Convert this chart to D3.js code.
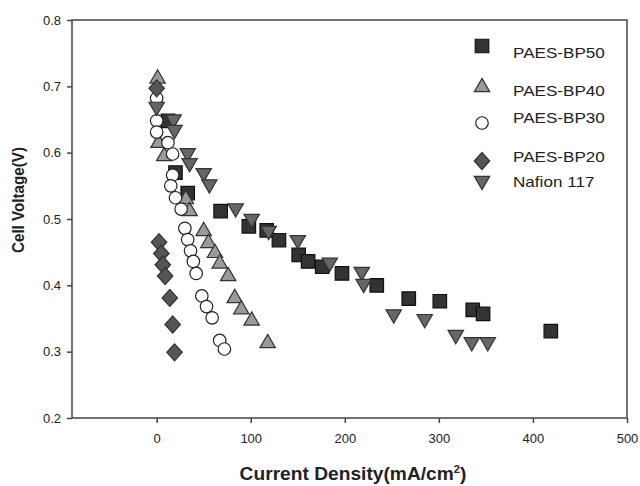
<!DOCTYPE html>
<html>
<head>
<meta charset="utf-8">
<script src="https://cdn.jsdelivr.net/npm/d3@7"></script>
<style>
  html, body { margin: 0; padding: 0; background: #fff; }
  svg { display: block; }
  text { font-family: "Liberation Sans", Arial, sans-serif; fill: #222; }
</style>
</head>
<body>
<svg id="chart" width="640" height="486"></svg>
<script>
// ---- data ----
const seriesNames = ["PAES-BP50", "PAES-BP40", "PAES-BP30", "PAES-BP20", "Nafion 117"];

const bp50 = [[12,0.648],[20,0.570],[33,0.539],[68,0.512],[98,0.489],[117,0.483],[130,0.468],[151,0.446],[161,0.436],[176,0.428],[197,0.418],[234,0.400],[268,0.380],[301,0.376],[336,0.363],[347,0.357],[419,0.331]];
const bp40 = [[1,0.715],[2,0.618],[8,0.598],[31,0.533],[35,0.515],[50,0.485],[55,0.467],[62,0.452],[67,0.436],[76,0.417],[83,0.384],[90,0.367],[101,0.350],[118,0.316]];
const bp30 = [[0,0.682],[0,0.648],[0,0.631],[12,0.615],[17,0.598],[17,0.566],[15,0.550],[20,0.532],[26,0.515],[30,0.486],[33,0.469],[36,0.452],[39,0.436],[42,0.418],[48,0.384],[53,0.368],[59,0.351],[67,0.317],[72,0.304]];
const bp20 = [[0,0.697],[2.5,0.465],[5,0.448],[6.5,0.431],[9,0.414],[14,0.381],[17,0.341],[19,0.299]];
const nafion = [[0,0.666],[18,0.647],[19,0.631],[33,0.596],[35,0.581],[50,0.566],[56,0.549],[84,0.513],[101,0.497],[119,0.479],[150,0.465],[184,0.431],[218,0.417],[220,0.399],[252,0.353],[285,0.346],[318,0.322],[335,0.311],[352,0.311]];

const xTicks = [0, 100, 200, 300, 400, 500];
const yTicks = [0.2, 0.3, 0.4, 0.5, 0.6, 0.7, 0.8];
const xDomain = [-90, 500];
const yDomain = [0.2, 0.8];
const xTitle = "Current Density(mA/cm";
const xTitleSup = "2";
const yTitle = "Cell Voltage(V)";

// ---- layout ----
const svg = d3.select("#chart");
const plot = { left: 72, right: 627, top: 20, bottom: 418 };

const x = d3.scaleLinear().domain(xDomain).range([plot.left, plot.right]);
const y = d3.scaleLinear().domain(yDomain).range([plot.bottom, plot.top]);

// marker shapes (centered on bbox)
const shapes = {
  square: s => `M${-s/2},${-s/2}h${s}v${s}h${-s}Z`,
  triUp: s => { const w = s*1.1, h = s*0.95; return `M0,${-h/2}L${w/2},${h/2}L${-w/2},${h/2}Z`; },
  triDown: s => { const w = s*1.1, h = s*0.95; return `M0,${h/2}L${w/2},${-h/2}L${-w/2},${-h/2}Z`; },
  diamond: s => { const w = s*1.0, h = s*1.1; return `M0,${-h/2}L${w/2},0L0,${h/2}L${-w/2},0Z`; },
  circle: s => d3.symbol(d3.symbolCircle, Math.PI*(s/2)*(s/2))()
};

const series = [
  { name: seriesNames[0], data: bp50,   shape: "square",  size: 13.5, fill: "#333", stroke: "#111" },
  { name: seriesNames[1], data: bp40,   shape: "triUp",   size: 14, fill: "#9a9a9a", stroke: "#333" },
  { name: seriesNames[2], data: bp30,   shape: "circle",  size: 12.5, fill: "#fff", stroke: "#222" },
  { name: seriesNames[3], data: bp20,   shape: "diamond", size: 15.5, fill: "#555", stroke: "#333" },
  { name: seriesNames[4], data: nafion, shape: "triDown", size: 14, fill: "#666", stroke: "#333" }
];

// ---- axes ----
const yAxis = d3.axisLeft(y).tickValues(yTicks).tickFormat(d3.format(".1f")).tickSize(5).tickSizeOuter(0).tickPadding(6);
const xAxis = d3.axisBottom(x).tickValues(xTicks).tickFormat(d3.format("d")).tickSize(5).tickSizeOuter(0).tickPadding(11);

const gy = svg.append("g").attr("transform", `translate(${plot.left},0)`).call(yAxis);
const gx = svg.append("g").attr("transform", `translate(0,${plot.bottom})`).call(xAxis);
[gx, gy].forEach(g => {
  g.select(".domain").remove();
  g.selectAll(".tick line").attr("stroke", "#444").attr("stroke-width", 1.5);
  g.selectAll(".tick text").style("font-family", "'Liberation Sans', Arial, sans-serif").attr("fill", "#222").style("font-size", "13px");
});

// frame
svg.append("rect")
  .attr("x", plot.left).attr("y", plot.top)
  .attr("width", plot.right - plot.left).attr("height", plot.bottom - plot.top)
  .attr("fill", "none").attr("stroke", "#444").attr("stroke-width", 1.5);

// ---- points ----
series.forEach(s => {
  svg.append("g").selectAll("path").data(s.data).join("path")
    .attr("d", shapes[s.shape](s.size))
    .attr("transform", d => `translate(${x(d[0])},${y(d[1])})`)
    .attr("fill", s.fill).attr("stroke", s.stroke).attr("stroke-width", 1.2);
});

// ---- legend ----
const legendRows = [
  { my: 46, ty: 57.5 },
  { my: 85, ty: 96 },
  { my: 123, ty: 123 },
  { my: 161, ty: 161.5 },
  { my: 183, ty: 186.5 }
];
const lg = svg.append("g");
series.forEach((s, i) => {
  lg.append("path")
    .attr("d", shapes[s.shape](s.size))
    .attr("transform", `translate(482,${legendRows[i].my})`)
    .attr("fill", s.fill).attr("stroke", s.stroke).attr("stroke-width", 1.2);
  const t = lg.append("text")
    .attr("x", 513).attr("y", legendRows[i].ty)
    .style("font-size", "15px")
    .text(s.name);
  const w = t.node().getComputedTextLength();
  t.attr("textLength", w * 1.14).attr("lengthAdjust", "spacingAndGlyphs");
});

// ---- titles ----
const xg = svg.append("g");
const xt = xg.append("text")
  .attr("x", 0).attr("y", 0)
  .attr("text-anchor", "middle")
  .style("font-size", "19px").style("font-weight", "bold");
xt.append("tspan").text(xTitle);
xt.append("tspan").attr("dy", -7).style("font-size", "11px").text(xTitleSup);
xt.append("tspan").attr("dy", 7).text(")");
const xw = xt.node().getBBox().width;
xg.attr("transform", `translate(353,480) scale(${227 / xw},1)`);

svg.append("text")
  .attr("transform", "translate(24,200) rotate(-90)")
  .attr("text-anchor", "middle")
  .style("font-size", "17px").style("font-weight", "bold")
  .attr("textLength", 106).attr("lengthAdjust", "spacingAndGlyphs")
  .text(yTitle);
</script>
</body>
</html>
